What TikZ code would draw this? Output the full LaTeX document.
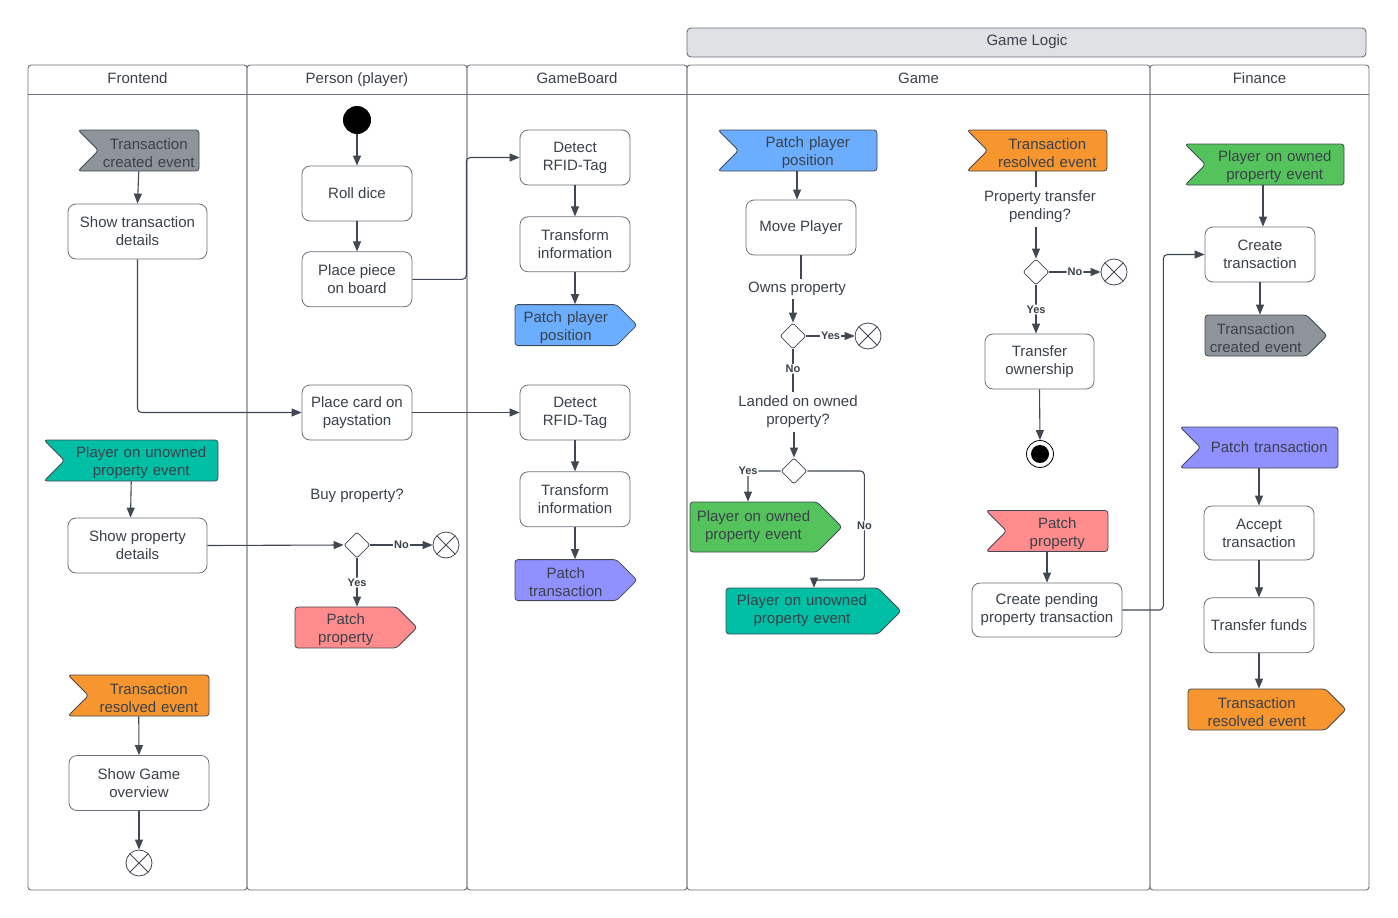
\documentclass[tikz,border=0pt]{standalone}
\usepackage{fontspec}
\setmainfont{Liberation Sans}
\usetikzlibrary{arrows.meta,shapes.geometric,shapes.symbols,positioning}
\definecolor{txt}{HTML}{3A414A}
\definecolor{edge}{HTML}{414853}
\definecolor{lane}{HTML}{6A707A}
\definecolor{hdr}{HTML}{DFE1E5}
\definecolor{evgray}{HTML}{8F949B}
\definecolor{evteal}{HTML}{00BFA5}
\definecolor{evorange}{HTML}{F7962F}
\definecolor{evblue}{HTML}{6BADFF}
\definecolor{evgreen}{HTML}{55C35B}
\definecolor{evpink}{HTML}{FF8C8C}
\definecolor{evpurple}{HTML}{9090FF}

\begin{document}
\begin{tikzpicture}[x=1pt,y=-1pt,>={Triangle[length=10pt,width=8pt]},
        font=\fontsize{15}{18}\selectfont,text=txt,
        act/.style={rectangle,rounded corners=8pt,draw=lane,line width=0.8pt,fill=white,
          minimum width=110pt,minimum height=55pt,inner sep=2pt,align=center},
        sigin/.style={signal,signal from=west,signal to=nowhere,rounded corners=3pt,draw=edge,
          line width=0.8pt,fill=#1,minimum height=41pt,inner xsep=0pt,inner ysep=0pt,align=center},
        sigout/.style={signal,signal to=east,rounded corners=3pt,draw=edge,
          line width=0.8pt,fill=#1,minimum height=41pt,inner xsep=0pt,inner ysep=0pt,align=center},
        twol/.style={execute at begin node={\rule{0pt}{15.5pt}}},
        dec/.style={diamond,draw=edge,line width=0.8pt,fill=white,minimum width=26pt,
          minimum height=26pt,inner sep=0pt,rounded corners=2pt},
        xend/.style={circle,draw=edge,line width=0.8pt,fill=white,minimum size=26pt,inner sep=0pt,
          path picture={\draw[edge,line width=0.8pt] (path picture bounding box.north west) -- (path picture bounding box.south east)
            (path picture bounding box.south west) -- (path picture bounding box.north east);}},
        final/.style={circle,draw=black,line width=0.8pt,fill=white,minimum size=27pt,inner sep=0pt,
          path picture={\fill[black] (path picture bounding box.center) circle (9pt);}},
        lbl/.style={font=\fontsize{11}{13}\selectfont\bfseries,fill=white,inner sep=1pt},
        conn/.style={draw=edge,line width=1.1pt,rounded corners=4pt}]
        \useasboundingbox (0,0) rectangle (1398,918);

        \foreach \xa/\xb/\ttl [count=\i] in {28/247/Frontend,247/467/Person (player),
            467/687/GameBoard,687/1150/Game,1150/1369/Finance}{
          \draw[lane,line width=0.9pt,rounded corners=3pt] (\xa,65) rectangle (\xb,890);
          \draw[lane,line width=0.9pt] (\xa,94) -- (\xb,94);
          \node[anchor=base] (lane\i) at ({(\xa+\xb)/2},83) {\ttl};
        }
        \draw[lane,line width=0.9pt,fill=hdr,rounded corners=4pt] (687,28) rectangle (1366,57);
        \node[anchor=base] (logic) at (1027,45.5) {Game Logic};

        \node[sigin=evgray,twol,text width=100.5pt] (tce1) at (148.75,150.5) {Transaction\\created event};
        \node[act,minimum width=139pt] (std) at (137.5,231.5) {Show transaction\\details};
        \node[sigin=evteal,twol,text width=153.5pt] (puoe1) at (141.25,460.5) {Player on unowned\\property event};
        \node[act,minimum width=139pt] (spd) at (137.5,545.5) {Show property\\details};
        \node[sigin=evorange,twol,text width=120.5pt] (tre1) at (148.75,695.5) {Transaction\\resolved event};
        \node[act,minimum width=140pt] (sgo) at (139,783) {Show Game\\overview};
        \node[xend] (end1) at (139,863) {};

        \node[circle,fill=black,minimum size=28pt,inner sep=0pt] (start) at (357,120) {};
        \node[act] (roll) at (357,193.5) {Roll dice};
        \node[act] (ppb) [below=30pt of roll] {Place piece\\on board};
        \node[act] (pcp) at (357,412.5) {Place card on\\paystation};
        \node (buyq) at (357,496) {Buy property?};
        \node[dec] (dec1) at (357,545) {};
        \node[xend] (x1) at (446,545) {};
        \node[sigout=evpink,twol,text width=101.5pt] (pp1) at (345.75,627.5) {Patch\\property};

        \node[act] (dr1) at (575,157.5) {Detect\\RFID-Tag};
        \node[act] (ti1) [below=31pt of dr1] {Transform\\information};
        \node[sigout=evblue,twol,text width=101.5pt] (ppp1) [below=32pt of ti1,xshift=-9.25pt] {Patch player\\position};
        \node[act] (dr2) at (575,412.5) {Detect\\RFID-Tag};
        \node[act] (ti2) [below=31pt of dr2] {Transform\\information};
        \node[sigout=evpurple,twol,text width=101.5pt] (pt1) [below=32pt of ti2,xshift=-9.25pt] {Patch\\transaction};

        \node[sigin=evblue,twol,text width=138.5pt] (ppp2) at (807.75,150.5) {Patch player\\position};
        \node[act] (mp) at (801,227.5) {Move Player};
        \node (owns) at (797,289) {Owns property};
        \node[dec] (dec2) at (793,336) {};
        \node[xend] (x2) at (868,336) {};
        \node[align=center] (landed) at (798,412) {Landed on owned\\property?};
        \node[dec] (dec3) at (794,471) {};
        \node[sigout=evgreen,text width=127pt,minimum height=50pt] (pope2) at (753.5,527) {Player on owned\\property event};
        \node[sigout=evteal,text width=152pt,minimum height=46pt] (puoe2) at (802,611) {Player on unowned\\property event};

        \node[sigin=evorange,twol,text width=119.5pt] (tre2) at (1047.25,150.5) {Transaction\\resolved event};
        \node[align=center] (ptp) at (1040,207) {Property transfer\\pending?};
        \node[dec] (dec4) at (1036,272) {};
        \node[xend] (x3) at (1114,272) {};
        \node[act,minimum width=109pt] (tow) at (1039.5,361.5) {Transfer\\ownership};
        \node[final] (fin) at (1040,454) {};
        \node[sigin=evpink,twol,text width=101.5pt] (ppr) at (1057.25,531) {Patch\\property};
        \node[act,minimum width=150pt,minimum height=54pt] (cpt) at (1047,610) {Create pending\\property transaction};

        \node[sigin=evgreen,twol,text width=138.5pt] (pope1) at (1274.75,164.5) {Player on owned\\property event};
        \node[act] (ct) at (1260,254.5) {Create\\transaction};
        \node[sigout=evgray,twol,text width=101.5pt] (tce2) at (1255.75,335.5) {Transaction\\created event};
        \node[sigin=evpurple,text width=137.5pt] (pt2) at (1269.25,447.5) {Patch transaction};
        \node[act,minimum height=54pt] (acc) at (1259,533) {Accept\\transaction};
        \node[act] (tf) [below=37pt of acc] {Transfer funds};
        \node[sigout=evorange,twol,text width=137.5pt] (tre3) at (1256.75,709.5) {Transaction\\resolved event};

        \path[->,every edge/.append style={conn}]
        ([xshift=-10pt]tce1.south) edge (std.north)
        ([xshift=-10pt]puoe1.south) edge ([xshift=-7pt]spd.north)
        ([xshift=-10pt]tre1.south) edge (sgo.north)
        (sgo.south) edge (end1.north)
        (spd.east) edge (dec1.west)
        (start.south) edge (roll.north)
        (roll.south) edge (ppb.north)
        (pcp.east) edge (dr2.west)
        (dec1.east) edge node[lbl] {No} (x1.west)
        (dec1.south) edge node[lbl] {Yes} ([xshift=11.25pt]pp1.north)
        (dr1.south) edge (ti1.north)
        (ti1.south) edge ([xshift=9.25pt]ppp1.north)
        (dr2.south) edge (ti2.north)
        (ti2.south) edge ([xshift=9.25pt]pt1.north)
        ([xshift=-10.75pt]ppp2.south) edge ([xshift=-4pt]mp.north)
        (dec2 |- owns.south) edge (dec2.north)
        (dec2.east) edge node[lbl] {Yes} (x2.west)
        (landed.south -| dec3) edge (dec3.north)
        (ptp.south -| dec4) edge (dec4.north)
        (dec4.east) edge node[lbl] {No} (x3.west)
        (dec4.south) edge node[lbl] {Yes} (dec4.south |- tow.north)
        (tow.south) edge (fin.north)
        ([xshift=-10.25pt]ppr.south) edge (cpt.north)
        ([xshift=-11.75pt]pope1.south) edge ([xshift=3pt]ct.north)
        (ct.south) edge ([xshift=4.25pt]tce2.north)
        ([xshift=-10.25pt]pt2.south) edge (acc.north)
        (acc.south) edge (tf.north)
        (tf.south) edge (tf.south |- tre3.north);

        \path[every edge/.append style={conn}]
        (mp.south) edge (mp.south |- owns.north)
        (dec2.south) edge node[lbl,pos=0.45] {No} (dec2.south |- landed.north)
        (dec4 |- tre2.south) edge (dec4 |- ptp.north);

        \draw[conn,->] (std.south) |- (pcp.west);
        \draw[conn,->] (ppb.east) -- ++(54,0) |- (dr1.west);
        \draw[conn,->] (dec3.west) -| node[lbl] {Yes} ([xshift=-5.5pt]pope2.north);
        \draw[conn,->] (dec3.east) -| node[lbl,pos=0.75] {No} ++(57,109) -| ([xshift=12pt]puoe2.north);
        \draw[conn,->] (cpt.east) -- ++(41,0) |- (ct.west);
\end{tikzpicture}
\end{document}
